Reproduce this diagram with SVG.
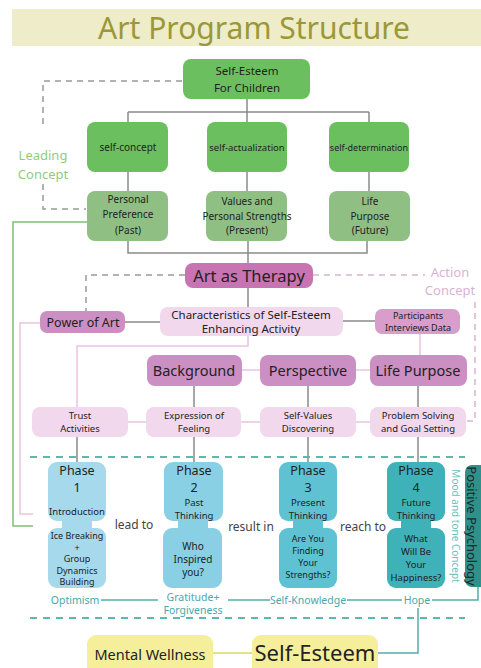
<svg xmlns="http://www.w3.org/2000/svg" width="481" height="668" viewBox="0 0 481 668">
<style>
text{font-family:"Noto Sans","Open Sans",sans-serif;text-anchor:middle;fill:#222}
.g1{fill:#6cbf5e}.g2{fill:#8fbf83}
.p1{fill:#c873b2}.p2{fill:#cc8fc3}.p3{fill:#f1d8ed}.p4{fill:#d89dca}
.ln{stroke:#8a8a8a;stroke-width:1.5;fill:none}
.dg{stroke:#999;stroke-width:1.5;fill:none;stroke-dasharray:6 5}
.dp{stroke:#d9b4d3;stroke-width:1.5;fill:none;stroke-dasharray:6 5}
.pl{stroke:#e9c3e3;stroke-width:1.5;fill:none}
.tl{stroke:#4fb0ac;stroke-width:1.5;fill:none}
.dt{stroke:#5cb8b0;stroke-width:2;fill:none;stroke-dasharray:7 6}
.s11{font-size:10px}.s12{font-size:11.5px}.s9{font-size:9.5px}.s8{font-size:9px}
.ph{font-size:12.5px}
.teal{fill:#4aa8a8}
</style>
<rect x="12" y="9" width="469" height="37" fill="#efecc9"/>
<text x="254" y="39" style="font-size:30px;fill:#9a9838">Art Program Structure</text>

<g id="connectors">
<path class="ln" d="M247 99V112M128 112H369M128 112V122M247 112V122M369 112V122"/>
<path class="ln" d="M128 172V191M247 172V191M369 172V191"/>
<path class="ln" d="M128 241V253H367V241M248 241V263"/>
<path class="dg" d="M182 81H43V128M43 184V209H86"/>
<path stroke="#7fbf74" stroke-width="1.5" fill="none" d="M87 222H13V526H33"/>
<path class="dg" d="M185 275H86V312"/>
<path class="dp" d="M313 275H425"/>
<path class="dp" d="M475 302V421H466"/>
<path class="ln" d="M125 322H160M343 321H375M248 288V307"/>
<path class="pl" d="M40 323H20V514H33"/>
<path class="pl" d="M248 336V346H77V407"/>
<path class="pl" d="M420 334V355"/>
<path class="pl" d="M242 370H260M356 370H370"/>
<path class="pl" d="M128 422H146M241 422H260M356 422H370"/>
<path class="ln" d="M194 386V407M308 386V407M418 386V407"/>
<path class="ln" d="M77 437V462M194 437V462M308 437V462M418 437V462"/>
<path class="dt" d="M30 457H465"/>
<path class="tl" d="M101 600H158M228 600H270M347 600H402M432 600H478V587"/>
<path class="tl" d="M418 608V653H378"/>
<path class="dt" d="M30 618H465"/>
<path stroke="#e3e48a" stroke-width="2" fill="none" d="M213 653H252"/>
</g>

<g id="n-self-esteem-children"><rect class="g1" x="183" y="59" width="127" height="40" rx="8"/><text x="247" y="75" class="s12">Self-Esteem</text><text x="247" y="92" class="s12">For Children</text></g>
<g id="n-self-concept"><rect class="g1" x="87" y="122" width="81" height="50" rx="8"/><text x="128" y="151" style="font-size:10px">self-concept</text></g>
<g id="n-self-actualization"><rect class="g1" x="207" y="122" width="80" height="50" rx="8"/><text x="247" y="151" style="font-size:9.5px">self-actualization</text></g>
<g id="n-self-determination"><rect class="g1" x="329" y="122" width="80" height="50" rx="8"/><text x="369" y="151" style="font-size:9px">self-determination</text></g>
<g id="n-personal-preference"><rect class="g2" x="87" y="191" width="81" height="50" rx="8"/><text x="128" y="203" class="s11">Personal</text><text x="128" y="218" class="s11">Preference</text><text x="128" y="234" class="s11">(Past)</text></g>
<g id="n-values"><rect class="g2" x="206" y="191" width="81" height="50" rx="8"/><text x="247" y="205" class="s11">Values and</text><text x="247" y="220" class="s11">Personal Strengths</text><text x="247" y="234" class="s11">(Present)</text></g>
<g id="n-life-purpose-future"><rect class="g2" x="329" y="191" width="81" height="50" rx="8"/><text x="370" y="205" class="s11">Life</text><text x="370" y="220" class="s11">Purpose</text><text x="370" y="234" class="s11">(Future)</text></g>
<g id="l-leading"><text x="43" y="160" style="font-size:13px;fill:#8fcc80">Leading</text><text x="43" y="179" style="font-size:13px;fill:#8fcc80">Concept</text></g>

<g id="n-art-therapy"><rect class="p1" x="185" y="263" width="128" height="25" rx="8"/><text x="249" y="282" style="font-size:16.5px">Art as Therapy</text></g>
<g id="l-action"><text x="450" y="277" style="font-size:13px;fill:#d8b4d2">Action</text><text x="450" y="295" style="font-size:13px;fill:#d8b4d2">Concept</text></g>
<g id="n-power-art"><rect class="p2" x="40" y="311" width="85" height="22" rx="7"/><text x="83" y="327" style="font-size:12.5px">Power of Art</text></g>
<g id="n-characteristics"><rect class="p3" x="160" y="307" width="183" height="29" rx="8"/><text x="251" y="319" class="s12">Characteristics of Self-Esteem</text><text x="251" y="333" class="s12">Enhancing Activity</text></g>
<g id="n-participants"><rect class="p4" x="375" y="309" width="85" height="25" rx="7"/><text x="418" y="319" style="font-size:9px">Participants</text><text x="418" y="331" style="font-size:9px">Interviews Data</text></g>
<g id="n-background"><rect class="p2" x="147" y="355" width="95" height="31" rx="8"/><text x="194" y="376" style="font-size:14.5px">Background</text></g>
<g id="n-perspective"><rect class="p2" x="260" y="355" width="96" height="31" rx="8"/><text x="308" y="376" style="font-size:14.5px">Perspective</text></g>
<g id="n-life-purpose"><rect class="p2" x="370" y="355" width="97" height="31" rx="8"/><text x="418" y="376" style="font-size:14.5px">Life Purpose</text></g>
<g id="n-trust"><rect class="p3" x="32" y="407" width="96" height="30" rx="8"/><text x="80" y="419" class="s9">Trust</text><text x="80" y="432" class="s9">Activities</text></g>
<g id="n-expression"><rect class="p3" x="146" y="407" width="95" height="30" rx="8"/><text x="194" y="419" class="s9">Expression of</text><text x="194" y="432" class="s9">Feeling</text></g>
<g id="n-self-values"><rect class="p3" x="260" y="407" width="96" height="30" rx="8"/><text x="308" y="419" class="s9">Self-Values</text><text x="308" y="432" class="s9">Discovering</text></g>
<g id="n-problem"><rect class="p3" x="370" y="407" width="96" height="30" rx="8"/><text x="418" y="419" class="s9">Problem Solving</text><text x="418" y="432" class="s9">and Goal Setting</text></g>

<g id="n-phase1"><rect x="48" y="462" width="58" height="59" rx="9" fill="#a6d9ec"/><rect x="62" y="518" width="30" height="13" fill="#a6d9ec"/><rect x="48" y="528" width="58" height="60" rx="9" fill="#a6d9ec"/>
<text x="77" y="475" class="ph">Phase</text><text x="77" y="492" class="ph">1</text><text x="77" y="515" class="s9">Introduction</text>
<text x="77" y="539" class="s8">Ice Breaking</text><text x="77" y="550.6" class="s8">+</text><text x="77" y="562.2" class="s8">Group</text><text x="77" y="573.8" class="s8">Dynamics</text><text x="77" y="585.4" class="s8">Building</text></g>
<g id="n-phase2"><rect x="164" y="462" width="59" height="59" rx="9" fill="#89d0e5"/><rect x="178" y="518" width="30" height="13" fill="#89d0e5"/><rect x="163" y="528" width="59" height="60" rx="9" fill="#89d0e5"/>
<text x="194" y="475" class="ph">Phase</text><text x="194" y="492" class="ph">2</text><text x="194" y="506" class="s9">Past</text><text x="194" y="519" class="s9">Thinking</text>
<text x="193" y="550" class="s11">Who</text><text x="193" y="563" class="s11">Inspired</text><text x="193" y="576" class="s11">you?</text></g>
<g id="n-phase3"><rect x="279" y="462" width="58" height="59" rx="9" fill="#5fc2d3"/><rect x="293" y="518" width="30" height="13" fill="#5fc2d3"/><rect x="279" y="528" width="58" height="60" rx="9" fill="#5fc2d3"/>
<text x="308" y="475" class="ph">Phase</text><text x="308" y="492" class="ph">3</text><text x="308" y="506" class="s9">Present</text><text x="308" y="519" class="s9">Thinking</text>
<text x="308" y="542" class="s8">Are You</text><text x="308" y="554" class="s8">Finding</text><text x="308" y="566" class="s8">Your</text><text x="308" y="578" class="s8">Strengths?</text></g>
<g id="n-phase4"><rect x="387" y="462" width="58" height="59" rx="9" fill="#3fb1b9"/><rect x="401" y="518" width="30" height="13" fill="#3fb1b9"/><rect x="387" y="528" width="58" height="60" rx="9" fill="#3fb1b9"/>
<text x="416" y="475" class="ph">Phase</text><text x="416" y="492" class="ph">4</text><text x="416" y="506" class="s9">Future</text><text x="416" y="519" class="s9">Thinking</text>
<text x="416" y="542" class="s9">What</text><text x="416" y="555" class="s9">Will Be</text><text x="416" y="568" class="s9">Your</text><text x="416" y="581" class="s9">Happiness?</text></g>
<g id="l-links"><text x="134" y="529" style="font-size:12px;fill:#444">lead to</text><text x="251" y="531" style="font-size:12px;fill:#444">result in</text><text x="363" y="531" style="font-size:12px;fill:#444">reach to</text></g>
<g id="l-mood"><text transform="translate(452,526) rotate(90)" style="font-size:10px;fill:#6cc0bc">Mood and tone Concept</text></g>
<g id="n-positive"><rect x="465" y="465" width="22" height="122" rx="7" fill="#2f918a"/><text transform="translate(467,526) rotate(90)" style="font-size:13px;fill:#1a2a2a">Positive Psychology</text></g>
<g id="l-values"><text x="75" y="604" class="teal" style="font-size:10.5px">Optimism</text><text x="193" y="601" class="teal" style="font-size:10.5px">Gratitude+</text><text x="193" y="614" class="teal" style="font-size:10.5px">Forgiveness</text><text x="308" y="604" class="teal" style="font-size:10.5px">Self-Knowledge</text><text x="417" y="604" class="teal" style="font-size:10.5px">Hope</text></g>
<g id="n-mental-wellness"><rect x="87" y="635" width="126" height="45" rx="9" fill="#f5ef9c"/><text x="150" y="660" style="font-size:14.5px">Mental Wellness</text></g>
<g id="n-self-esteem"><rect x="252" y="635" width="126" height="45" rx="9" fill="#f5ef9c"/><text x="315" y="661" style="font-size:22px">Self-Esteem</text></g>
</svg>
